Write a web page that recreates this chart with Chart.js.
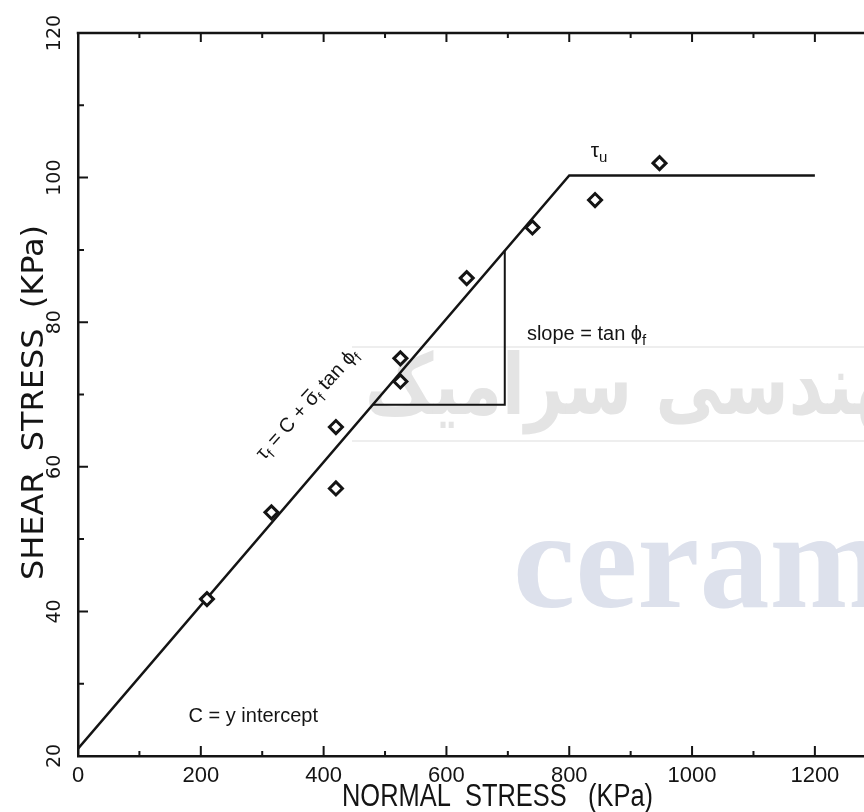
<!DOCTYPE html>
<html>
<head>
<meta charset="utf-8">
<script src="https://cdn.jsdelivr.net/npm/chart.js@4.4.1/dist/chart.umd.min.js"></script>
<style>
  html, body { margin: 0; padding: 0; background: #fff; overflow: hidden; }
  #wrap { width: 864px; height: 812px; position: relative; }
</style>
</head>
<body>
<div id="wrap"><canvas id="chart"></canvas></div>
<script>
// measured points (normal stress vs shear stress, KPa)
var normalStress = [210, 315, 420, 420, 525, 525, 633, 740, 842, 947];
var shearStress = [41.7, 53.7, 57.0, 65.5, 71.8, 75.0, 86.1, 93.1, 96.9, 102.0];
// failure envelope: sloped part then the tau_u plateau
var envelopeX = [0, 800, 1200];
var envelopeY = [21, 100.3, 100.3];
// slope triangle
var slopeX = [480, 695, 695];
var slopeY = [68.58, 68.58, 89.9];
var xTicks = [0, 200, 400, 600, 800, 1000, 1200];
var yTicks = [20, 40, 60, 80, 100, 120];

var ink = "#141414";
var sans = "'Liberation Sans', Arial, sans-serif";

function pairs(xs, ys) {
    return xs.map(function (x, i) { return { x: x, y: ys[i] }; });
}

function drawRuns(ctx, parts, x, y, align) {
    var total = 0;
    parts.forEach(function (p) {
        ctx.font = p.size + "px " + sans;
        p.w = ctx.measureText(p.t).width;
        total += p.w;
    });
    var cx = align === "center" ? x - total / 2 : x;
    parts.forEach(function (p) {
        ctx.font = p.size + "px " + sans;
        ctx.fillText(p.t, cx, y + (p.dy || 0));
        if (p.bar) ctx.fillRect(cx + 1, y - p.size * 0.8, p.w - 2, 1.5);
        cx += p.w;
    });
}

// text squeezed/stretched to a given length
function fitText(ctx, text, font, len) {
    ctx.font = font;
    var w = ctx.measureText(text).width;
    ctx.scale(len / w, 1);
    ctx.fillText(text, 0, 0);
}

var decor = {
    id: "decor",
    beforeDatasetsDraw: function (chart) {
        var ctx = chart.ctx;
        ctx.save();
        // site watermark from the scan
        ctx.strokeStyle = "#e9e9e9";
        ctx.lineWidth = 1.5;
        ctx.beginPath();
        ctx.moveTo(352, 347); ctx.lineTo(864, 347);
        ctx.moveTo(352, 441); ctx.lineTo(864, 441);
        ctx.stroke();
        ctx.fillStyle = "#e4e4e4";
        ctx.textAlign = "left";
        ctx.save();
        ctx.translate(365, 414);
        fitText(ctx, "مهندسی سرامیک", "bold 84px 'DejaVu Sans', sans-serif", 575);
        ctx.restore();
        ctx.fillStyle = "#dde1ec";
        ctx.font = "bold 140px 'Liberation Serif', 'DejaVu Serif', serif";
        ctx.fillText("ceramic", 513, 607);
        ctx.restore();
    },
    afterDraw: function (chart) {
        var ctx = chart.ctx, a = chart.chartArea;
        var xs = chart.scales.x, ys = chart.scales.y;
        ctx.save();
        ctx.strokeStyle = ink;
        ctx.fillStyle = ink;
        ctx.lineWidth = 2.5;
        ctx.beginPath();
        ctx.moveTo(a.left - 1.25, a.top);
        ctx.lineTo(a.right, a.top);
        ctx.stroke();

        // inward tick marks, major at labels, minor half way
        ctx.lineWidth = 2;
        ctx.beginPath();
        xTicks.forEach(function (v, i) {
            var px = xs.getPixelForValue(v);
            ctx.moveTo(px, a.bottom); ctx.lineTo(px, a.bottom - 10);
            ctx.moveTo(px, a.top); ctx.lineTo(px, a.top + 9);
            var step = i < xTicks.length - 1 ? xTicks[i + 1] - v : v - xTicks[i - 1];
            var m = v + step / 2;
            if (m <= xs.max) {
                px = xs.getPixelForValue(m);
                ctx.moveTo(px, a.bottom); ctx.lineTo(px, a.bottom - 5);
                ctx.moveTo(px, a.top); ctx.lineTo(px, a.top + 5);
            }
        });
        yTicks.forEach(function (v, i) {
            var py = ys.getPixelForValue(v);
            ctx.moveTo(a.left, py); ctx.lineTo(a.left + 10, py);
            if (i < yTicks.length - 1) {
                py = ys.getPixelForValue((v + yTicks[i + 1]) / 2);
                ctx.moveTo(a.left, py); ctx.lineTo(a.left + 6, py);
            }
        });
        ctx.stroke();

        // rotated y tick labels
        ctx.textAlign = "center";
        ctx.textBaseline = "middle";
        ctx.font = "19px 'DejaVu Sans', sans-serif";
        yTicks.forEach(function (v) {
            ctx.save();
            ctx.translate(55, ys.getPixelForValue(v));
            ctx.rotate(-Math.PI / 2);
            ctx.fillText(String(v), 0, 0);
            ctx.restore();
        });

        // axis titles
        ctx.textAlign = "left";
        ctx.textBaseline = "alphabetic";
        ctx.save();
        ctx.translate(342, 806);
        fitText(ctx, "NORMAL  STRESS   (KPa)", "31px " + sans, 311);
        ctx.restore();
        ctx.save();
        ctx.translate(43, 580);
        ctx.rotate(-Math.PI / 2);
        fitText(ctx, "SHEAR  STRESS  (KPa)", "31px 'DejaVu Sans', sans-serif", 355);
        ctx.restore();

        // annotations
        drawRuns(ctx, [{ t: "τ", size: 21 }, { t: "u", size: 15, dy: 5 }],
            xs.getPixelForValue(835), ys.getPixelForValue(102.8));
        drawRuns(ctx, [{ t: "slope = tan ϕ", size: 20 }, { t: "f", size: 15, dy: 5 }],
            xs.getPixelForValue(731), ys.getPixelForValue(77.5));
        drawRuns(ctx, [{ t: "C = y intercept", size: 20 }],
            xs.getPixelForValue(180), ys.getPixelForValue(24.7));

        ctx.save();
        ctx.translate(xs.getPixelForValue(371.7), ys.getPixelForValue(68.8));
        ctx.rotate(-48 * Math.PI / 180);
        drawRuns(ctx, [
            { t: "τ", size: 20 }, { t: "f", size: 14, dy: 5 },
            { t: " = C + ", size: 20 },
            { t: "σ", size: 20, bar: true }, { t: "f", size: 14, dy: 5 },
            { t: " tan ϕ", size: 20 }, { t: "f", size: 14, dy: 5 }
        ], 0, 7, "center");
        ctx.restore();
        ctx.restore();
    }
};

new Chart(document.getElementById("chart"), {
    type: "scatter",
    data: {
        datasets: [
            {
                label: "tests",
                data: pairs(normalStress, shearStress),
                pointStyle: "rectRot",
                pointRadius: 6.5,
                pointBorderWidth: 3,
                pointBorderColor: ink,
                pointBackgroundColor: "#fff",
            },
            {
                label: "envelope",
                data: pairs(envelopeX, envelopeY),
                showLine: true,
                borderColor: ink,
                borderWidth: 2.5,
                pointRadius: 0,
                tension: 0,
            },
            {
                label: "slope",
                data: pairs(slopeX, slopeY),
                showLine: true,
                borderColor: ink,
                borderWidth: 2,
                pointRadius: 0,
                tension: 0,
            },
        ],
    },
    options: {
        responsive: true,
        maintainAspectRatio: false,
        animation: false,
        layout: { autoPadding: false, padding: { top: 33, right: 0, left: 0, bottom: 0 } },
        plugins: { legend: { display: false }, tooltip: { enabled: false } },
        scales: {
            x: {
                type: "linear",
                min: 0,
                max: 1280,
                grid: { display: false },
                border: { display: true, color: ink, width: 2.5 },
                afterBuildTicks: function (scale) {
                    scale.ticks = xTicks.map(function (v) { return { value: v }; });
                },
                afterFit: function (scale) {
                    scale.height = 56;
                    scale.paddingRight = 0;
                },
                ticks: {
                    color: ink,
                    padding: -1,
                    maxRotation: 0,
                    font: { family: sans, size: 22 },
                    callback: function (v) { return String(v); },
                },
            },
            y: {
                type: "linear",
                min: 20,
                max: 120,
                grid: { display: false },
                border: { display: true, color: ink, width: 2.5 },
                ticks: { display: false },
                afterFit: function (scale) { scale.width = 78; },
            },
        },
    },
    plugins: [decor],
});
</script>
</body>
</html>
